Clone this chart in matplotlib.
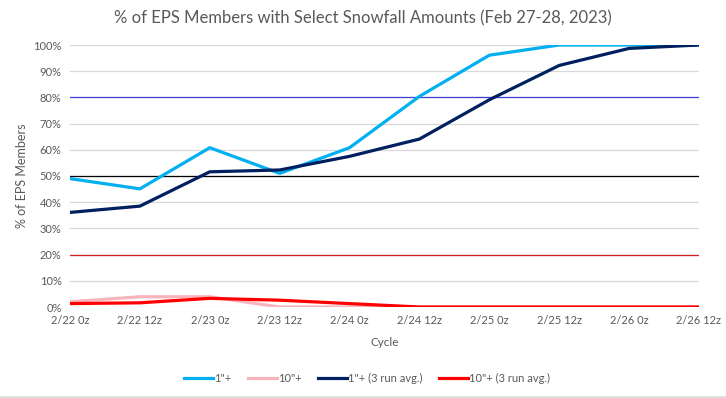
import matplotlib.pyplot as plt
from matplotlib.ticker import PercentFormatter
from matplotlib.lines import Line2D

plt.rcParams['font.family'] = ['Lato', 'DejaVu Sans']

# data (fraction of members)
cycles = ["2/22 0z", "2/22 12z", "2/23 0z", "2/23 12z", "2/24 0z",
          "2/24 12z", "2/25 0z", "2/25 12z", "2/26 0z", "2/26 12z"]
one_inch = [0.490, 0.451, 0.608, 0.510, 0.608, 0.804, 0.961, 1.0, 1.0, 1.0]
ten_inch = [0.020, 0.039, 0.039, 0.0, 0.0, 0.0, 0.0, 0.0, 0.0, 0.0]
one_inch_avg = [0.361, 0.385, 0.516, 0.523, 0.575, 0.641, 0.791, 0.922, 0.987, 1.0]
ten_inch_avg = [0.013, 0.016, 0.033, 0.026, 0.013, 0.0, 0.0, 0.0, 0.0, 0.0]
yticks = [i / 10 for i in range(11)]

fig = plt.figure(figsize=(7.26, 3.98), dpi=100)
ax = fig.add_axes([70 / 726, 1 - 307 / 398, 629 / 726, 262 / 398])

x = list(range(len(cycles)))
ax.set_xlim(0, len(cycles) - 1)
ax.set_ylim(0, 1)

# gridlines
for y in yticks:
    ax.axhline(y, color="#d9d9d9", lw=0.9, zorder=0)
ax.axhline(0.8, color="#3f3fd8", lw=0.9, zorder=1)
ax.axhline(0.5, color="black", lw=0.9, zorder=1)
ax.axhline(0.2, color="#d42020", lw=0.9, zorder=1)

ax.plot(x, one_inch, color="#00b0f0", lw=2.3, label='1"+', zorder=3)
ax.plot(x, ten_inch, color="#f7b4bb", lw=2.3, label='10"+', zorder=3)
ax.plot(x, one_inch_avg, color="#002060", lw=2.3, label='1"+ (3 run avg.)', zorder=4)
ax.plot(x, ten_inch_avg, color="#ff0000", lw=2.3, label='10"+ (3 run avg.)', zorder=4)

ax.set_xticks(x)
ax.set_xticklabels(cycles)
ax.set_yticks(yticks)
ax.yaxis.set_major_formatter(PercentFormatter(1.0, decimals=0))
ax.tick_params(length=0, labelsize=8, colors="#595959", pad=6)
for s in ax.spines.values():
    s.set_visible(False)

ax.set_xlabel("Cycle", fontsize=8.5, color="#595959", labelpad=8)
ax.set_ylabel("% of EPS Members", fontsize=9, color="#595959", labelpad=4)
fig.text(0.5, 1 - 18 / 398, "% of EPS Members with Select Snowfall Amounts (Feb 27-28, 2023)",
         ha="center", va="center", fontsize=12, color="#595959")

fig.legend(loc="center", bbox_to_anchor=(367 / 726, 1 - 378 / 398), ncol=4,
           frameon=False, fontsize=8, handlelength=2.6, handletextpad=0.1,
           columnspacing=1.5, labelcolor="#595959")

# chart border at bottom
fig.add_artist(Line2D([0, 1], [1.5 / 398, 1.5 / 398], color="#d9d9d9", lw=1.2))

plt.savefig("out.png", dpi=100)
